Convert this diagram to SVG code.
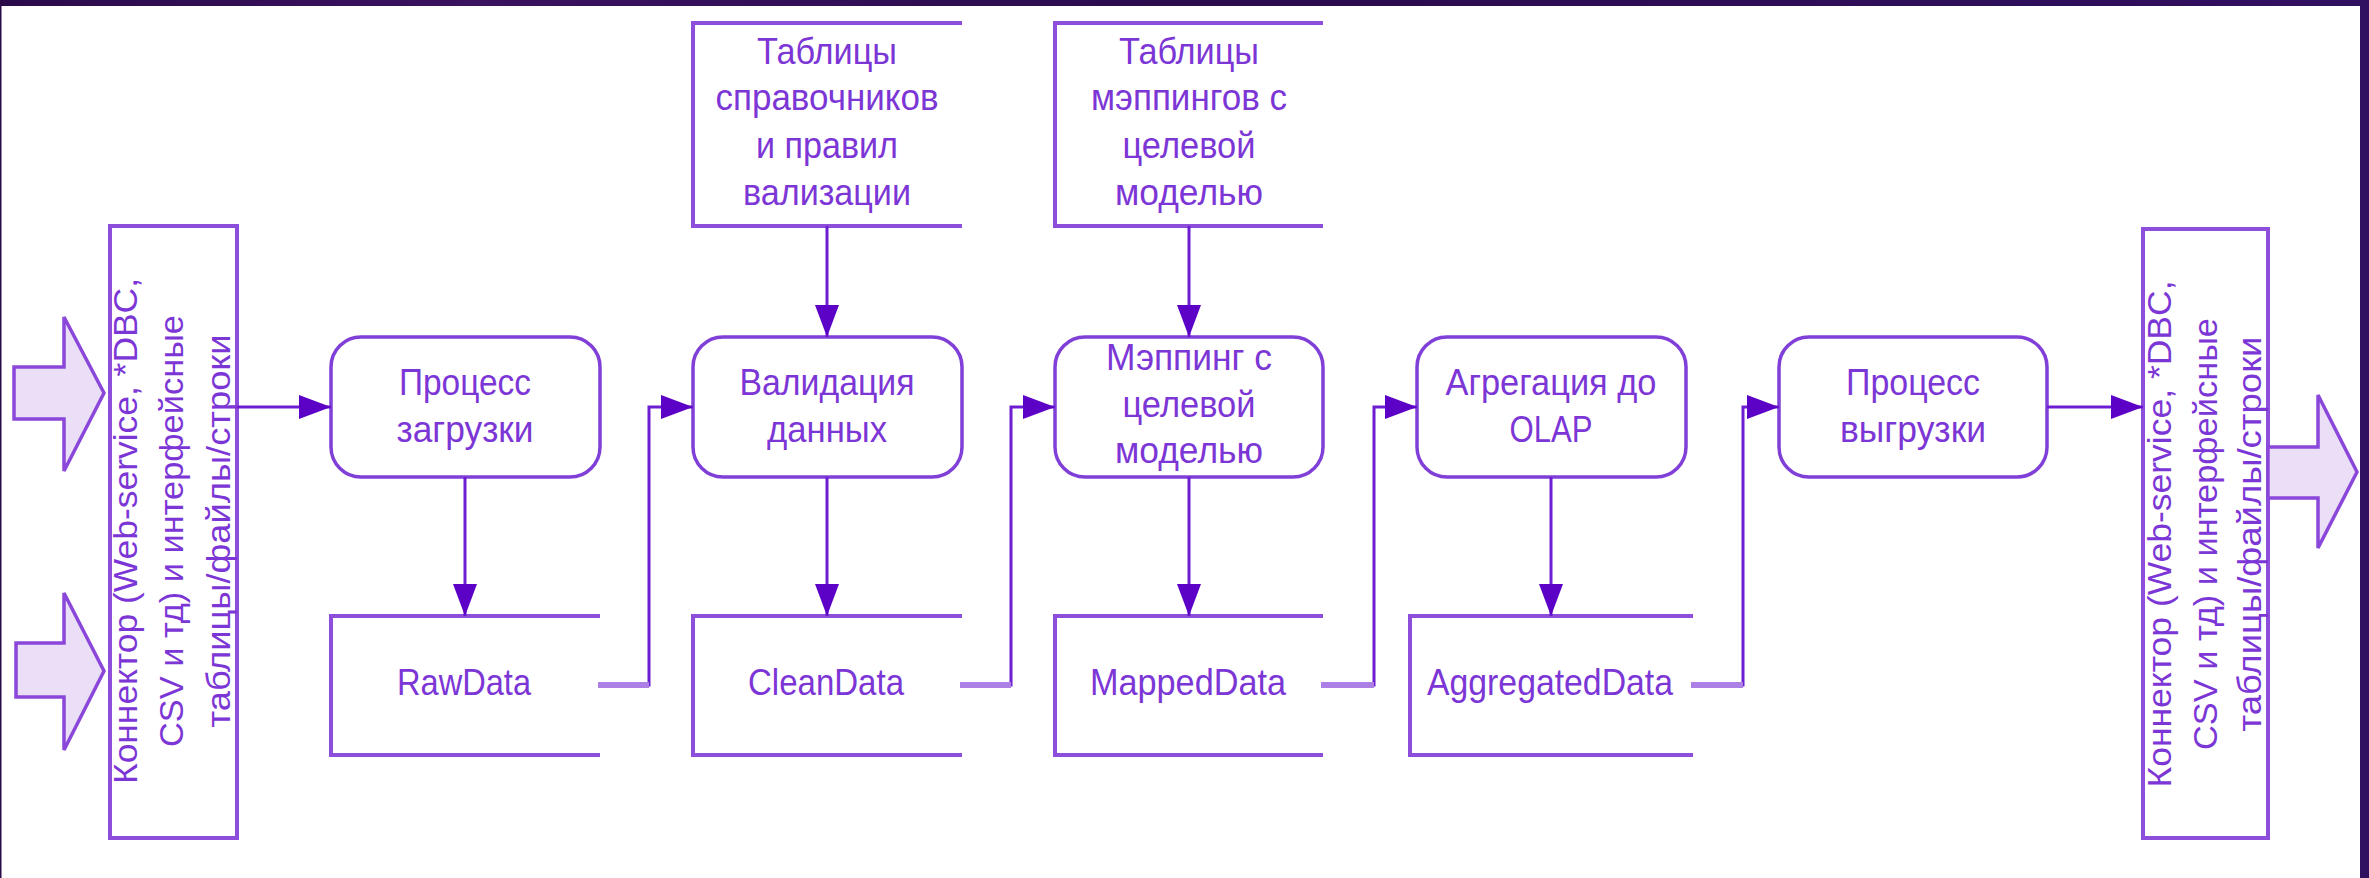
<svg xmlns="http://www.w3.org/2000/svg" width="2369" height="878" viewBox="0 0 2369 878">
  <defs>
    <linearGradient id="frameGrad" x1="0" y1="0" x2="1" y2="0">
      <stop offset="0" stop-color="#2b0a4a"/>
      <stop offset="0.2" stop-color="#3a1260"/>
      <stop offset="0.5" stop-color="#2a0b4c"/>
      <stop offset="1" stop-color="#301060"/>
    </linearGradient>
    <marker id="arrow" viewBox="0 0 32 24" refX="32" refY="12" markerWidth="32" markerHeight="24" markerUnits="userSpaceOnUse" orient="auto">
      <path d="M0,0 L32,12 L0,24 Z" fill="#5c02c6"/>
    </marker>
    <style>
      .box { fill: #ffffff; stroke: #8e4edc; stroke-width: 4; }
      .store { fill: none; stroke: #8e4edc; stroke-width: 4; }
      .proc { fill: #ffffff; stroke: #8040d8; stroke-width: 3.5; }
      .bigarrow { fill: #ebdff7; stroke: #8a47da; stroke-width: 3.5; stroke-linejoin: miter; }
      .lbl { font-family: "Liberation Sans", Arial, sans-serif; font-size: 36px; fill: #7c36d6; text-anchor: middle; }
      .vlbl { font-family: "Liberation Sans", Arial, sans-serif; font-size: 33px; fill: #7c36d6; text-anchor: middle; }
      .conn { fill: none; stroke: #6c1ed0; stroke-width: 3; }
      .stub { fill: none; stroke: #ad80e6; stroke-width: 6; }
    </style>
  </defs>

  <!-- page frame and white canvas -->
  <rect x="0" y="0" width="2369" height="878" fill="url(#frameGrad)"/>
  <rect x="1.5" y="6" width="2358.5" height="872" fill="#ffffff"/>

  <!-- input arrows -->
  <g id="input-arrow-1">
    <path class="bigarrow" d="M14,367 H64 V317 L104,393 L64,471 V419 H14 Z"/>
  </g>
  <g id="input-arrow-2">
    <path class="bigarrow" d="M16,643 H64 V593 L104,671 L64,750 V697 H16 Z"/>
  </g>

  <!-- source connector -->
  <g id="source-connector">
    <rect class="box" x="110" y="226" width="127" height="612"/>
    <text class="vlbl" transform="translate(137,531) rotate(-90)" textLength="506" lengthAdjust="spacingAndGlyphs">Коннектор (Web-service, *DBC,</text>
    <text class="vlbl" transform="translate(183,531) rotate(-90)" textLength="432" lengthAdjust="spacingAndGlyphs">CSV и тд) и интерфейсные</text>
    <text class="vlbl" transform="translate(230,531) rotate(-90)" textLength="393" lengthAdjust="spacingAndGlyphs">таблицы/файлы/строки</text>
  </g>

  <!-- reference tables -->
  <g id="ref-tables">
    <path class="store" d="M962,23 H693 V226 H962"/>
    <text class="lbl" x="827" y="64" textLength="140" lengthAdjust="spacingAndGlyphs">Таблицы</text>
    <text class="lbl" x="827" y="110" textLength="223" lengthAdjust="spacingAndGlyphs">справочников</text>
    <text class="lbl" x="827" y="158" textLength="142" lengthAdjust="spacingAndGlyphs">и правил</text>
    <text class="lbl" x="827" y="205" textLength="168" lengthAdjust="spacingAndGlyphs">вализации</text>
  </g>

  <!-- mapping tables -->
  <g id="mapping-tables">
    <path class="store" d="M1323,23 H1055 V226 H1323"/>
    <text class="lbl" x="1189" y="64" textLength="140" lengthAdjust="spacingAndGlyphs">Таблицы</text>
    <text class="lbl" x="1189" y="110" textLength="196" lengthAdjust="spacingAndGlyphs">мэппингов с</text>
    <text class="lbl" x="1189" y="158" textLength="133" lengthAdjust="spacingAndGlyphs">целевой</text>
    <text class="lbl" x="1189" y="205" textLength="148" lengthAdjust="spacingAndGlyphs">моделью</text>
  </g>

  <!-- processes -->
  <g id="proc-load">
    <rect class="proc" x="331" y="337" width="269" height="140" rx="30" ry="30"/>
    <text class="lbl" x="465" y="395" textLength="132" lengthAdjust="spacingAndGlyphs">Процесс</text>
    <text class="lbl" x="465" y="442" textLength="137" lengthAdjust="spacingAndGlyphs">загрузки</text>
  </g>
  <g id="proc-validate">
    <rect class="proc" x="693" y="337" width="269" height="140" rx="30" ry="30"/>
    <text class="lbl" x="827" y="395" textLength="175" lengthAdjust="spacingAndGlyphs">Валидация</text>
    <text class="lbl" x="827" y="442" textLength="120" lengthAdjust="spacingAndGlyphs">данных</text>
  </g>
  <g id="proc-map">
    <rect class="proc" x="1055" y="337" width="268" height="140" rx="30" ry="30"/>
    <text class="lbl" x="1189" y="370" textLength="166" lengthAdjust="spacingAndGlyphs">Мэппинг с</text>
    <text class="lbl" x="1189" y="417" textLength="133" lengthAdjust="spacingAndGlyphs">целевой</text>
    <text class="lbl" x="1189" y="463" textLength="148" lengthAdjust="spacingAndGlyphs">моделью</text>
  </g>
  <g id="proc-aggregate">
    <rect class="proc" x="1417" y="337" width="269" height="140" rx="30" ry="30"/>
    <text class="lbl" x="1551" y="395" textLength="211" lengthAdjust="spacingAndGlyphs">Агрегация до</text>
    <text class="lbl" x="1551" y="442" textLength="83" lengthAdjust="spacingAndGlyphs">OLAP</text>
  </g>
  <g id="proc-unload">
    <rect class="proc" x="1779" y="337" width="268" height="140" rx="30" ry="30"/>
    <text class="lbl" x="1913" y="395" textLength="134" lengthAdjust="spacingAndGlyphs">Процесс</text>
    <text class="lbl" x="1913" y="442" textLength="146" lengthAdjust="spacingAndGlyphs">выгрузки</text>
  </g>

  <!-- data stores -->
  <g id="store-raw">
    <path class="store" d="M600,616 H331 V755 H600"/>
    <text class="lbl" x="464" y="695" textLength="134" lengthAdjust="spacingAndGlyphs">RawData</text>
  </g>
  <g id="store-clean">
    <path class="store" d="M962,616 H693 V755 H962"/>
    <text class="lbl" x="826" y="695" textLength="156" lengthAdjust="spacingAndGlyphs">CleanData</text>
  </g>
  <g id="store-mapped">
    <path class="store" d="M1323,616 H1055 V755 H1323"/>
    <text class="lbl" x="1188" y="695" textLength="196" lengthAdjust="spacingAndGlyphs">MappedData</text>
  </g>
  <g id="store-aggregated">
    <path class="store" d="M1693,616 H1410 V755 H1693"/>
    <text class="lbl" x="1550" y="695" textLength="246" lengthAdjust="spacingAndGlyphs">AggregatedData</text>
  </g>

  <!-- target connector -->
  <g id="target-connector">
    <rect class="box" x="2143" y="229" width="125" height="609"/>
    <text class="vlbl" transform="translate(2171,534) rotate(-90)" textLength="507" lengthAdjust="spacingAndGlyphs">Коннектор (Web-service, *DBC,</text>
    <text class="vlbl" transform="translate(2217,534) rotate(-90)" textLength="432" lengthAdjust="spacingAndGlyphs">CSV и тд) и интерфейсные</text>
    <text class="vlbl" transform="translate(2261,534) rotate(-90)" textLength="395" lengthAdjust="spacingAndGlyphs">таблицы/файлы/строки</text>
  </g>

  <!-- output arrow -->
  <g id="output-arrow">
    <path class="bigarrow" d="M2268,447 H2318 V395 L2357,472 L2318,548 V498 H2268 Z"/>
  </g>

  <!-- connectors -->
  <g id="connectors">
    <path class="conn" d="M237,407 H331" marker-end="url(#arrow)"/>
    <path class="conn" d="M465,477 V616" marker-end="url(#arrow)"/>
    <path class="conn" d="M827,477 V616" marker-end="url(#arrow)"/>
    <path class="conn" d="M1189,477 V616" marker-end="url(#arrow)"/>
    <path class="conn" d="M1551,477 V616" marker-end="url(#arrow)"/>
    <path class="conn" d="M827,226 V337" marker-end="url(#arrow)"/>
    <path class="conn" d="M1189,226 V337" marker-end="url(#arrow)"/>
    <path class="conn" d="M600,685 H649 V407 H693" marker-end="url(#arrow)"/>
    <path class="conn" d="M962,685 H1011 V407 H1055" marker-end="url(#arrow)"/>
    <path class="conn" d="M1323,685 H1374 V407 H1417" marker-end="url(#arrow)"/>
    <path class="conn" d="M1693,685 H1743 V407 H1779" marker-end="url(#arrow)"/>
    <path class="conn" d="M2047,407 H2143" marker-end="url(#arrow)"/>
    <path class="stub" d="M598,685 H649"/>
    <path class="stub" d="M960,685 H1011"/>
    <path class="stub" d="M1321,685 H1374"/>
    <path class="stub" d="M1691,685 H1743"/>
  </g>
</svg>
